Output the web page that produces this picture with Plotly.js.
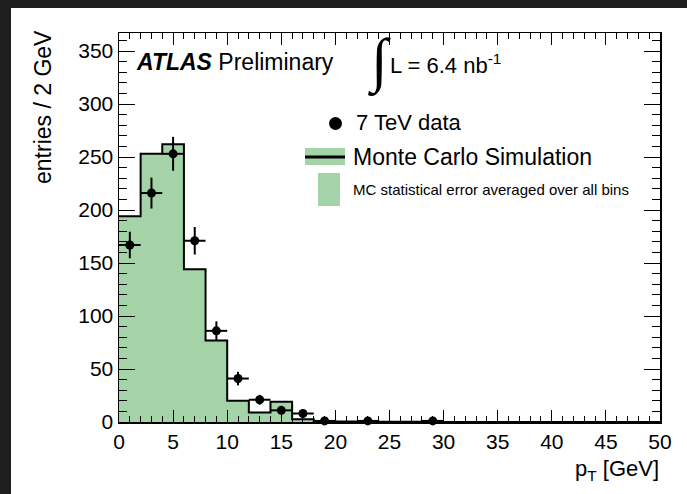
<!DOCTYPE html>
<html>
<head>
<meta charset="utf-8">
<script src="https://cdn.plot.ly/plotly-3.0.1.min.js"></script>
<style>html,body{margin:0;padding:0;background:#1e1e1e;}#chart{width:687px;height:494px;}</style>
</head>
<body>
<div id="chart"></div>
<script>
// MC histogram: bin edges (2 GeV bins) and contents
const mcEdges = [0,2,4,6,8,10,12,14,16,18,20,22,24,26,28,30,32,34,36,38,40,42,44,46,48,50];
const mcValues = [194,253,262,144,77,20,9,19,2.5,1,0.4,0.3,0.2,0.2,0.1,0.1,0,0,0,0,0,0,0,0,0];
// Data points
const dataX = [1,3,5,7,9,11,13,15,17,19,23,29];
const dataY = [167,216,253,171,86,41,21,11,8,1,1,1];
const dataErr = [12.5,14.6,16,13,9,6.4,4.6,3.3,2.8,1,1,1];
const dataXErr = [1,1,1,1,1,1,1,1,1,1,1,1];
const xTicks = [0,5,10,15,20,25,30,35,40,45,50];
const yTicks = [0,50,100,150,200,250,300,350];

const mcStepY = mcValues.concat([mcValues[mcValues.length-1]]);

const FONT = 'Liberation Sans, Arial, Helvetica, sans-serif';
const GREEN = '#a5d3a8';

// pixel -> paper coordinate helpers (plot area: x 119..660, y 33..422)
const L = 119, R = 660, T = 33, B = 422;
const px = x => (x - L) / (R - L);
const py = y => (B - y) / (B - T);

const traces = [
  {
    x: mcEdges, y: mcStepY, type: 'scatter', mode: 'lines',
    line: {shape: 'hv', color: '#000', width: 2},
    fill: 'tozeroy', fillcolor: GREEN, showlegend: false, hoverinfo: 'skip'
  },
  {
    x: dataX, y: dataY, type: 'scatter', mode: 'markers',
    marker: {color: '#000', size: 9, symbol: 'circle'},
    error_y: {type: 'data', array: dataErr, visible: true, color: '#000', thickness: 2, width: 0},
    error_x: {type: 'data', array: dataXErr, visible: true, color: '#000', thickness: 2, width: 0},
    showlegend: false, cliponaxis: false
  }
];

const layout = {
  width: 687, height: 494,
  margin: {l: L, r: 687 - R, t: T, b: 494 - B, pad: 0},
  paper_bgcolor: '#1e1e1e',
  plot_bgcolor: '#ffffff',
  showlegend: false,
  font: {family: FONT, color: '#000', size: 21},
  xaxis: {
    range: [0, 50], tickmode: 'array', tickvals: xTicks, ticktext: xTicks.map(String),
    ticks: 'inside', ticklen: 12, tickwidth: 1, tickcolor: '#000',
    minor: {ticks: 'inside', ticklen: 6, dtick: 1, tickcolor: '#000', tickwidth: 1, showgrid: false},
    showline: true, linecolor: '#000', linewidth: 1.5, mirror: 'allticks',
    showgrid: false, zeroline: false,
    tickfont: {family: FONT, size: 21, color: '#000'}
  },
  yaxis: {
    range: [0, 367], tickmode: 'array', tickvals: yTicks, ticktext: yTicks.map(String),
    ticks: 'inside', ticklen: 16, tickwidth: 1, tickcolor: '#000',
    minor: {ticks: 'inside', ticklen: 8, dtick: 10, tickcolor: '#000', tickwidth: 1, showgrid: false},
    showline: true, linecolor: '#000', linewidth: 1.5, mirror: 'allticks',
    showgrid: false, zeroline: false,
    tickfont: {family: FONT, size: 21, color: '#000'}
  },
  shapes: [
    // white canvas area
    {type: 'rect', xref: 'paper', yref: 'paper', x0: px(11), x1: px(700), y0: py(510), y1: py(8),
     fillcolor: '#ffffff', line: {width: 0}, layer: 'below'},
    // legend: data marker
    {type: 'circle', xref: 'paper', yref: 'paper', x0: px(329), x1: px(342), y0: py(130), y1: py(117),
     fillcolor: '#000', line: {width: 0}},
    // legend: MC band + line
    {type: 'rect', xref: 'paper', yref: 'paper', x0: px(305), x1: px(345), y0: py(165), y1: py(148),
     fillcolor: GREEN, line: {width: 0}},
    {type: 'line', xref: 'paper', yref: 'paper', x0: px(305), x1: px(345), y0: py(157), y1: py(157),
     line: {color: '#000', width: 3}},
    // legend: MC error box
    {type: 'rect', xref: 'paper', yref: 'paper', x0: px(318), x1: px(340), y0: py(206), y1: py(173),
     fillcolor: GREEN, line: {width: 0}}
  ],
  annotations: [
    {xref: 'paper', yref: 'paper', x: px(354), y: py(123), xanchor: 'left', yanchor: 'middle',
     text: '7 TeV data', showarrow: false, font: {family: FONT, size: 22, color: '#000'}},
    {xref: 'paper', yref: 'paper', x: px(351), y: py(157), xanchor: 'left', yanchor: 'middle',
     text: 'Monte Carlo Simulation', showarrow: false, font: {family: FONT, size: 23, color: '#000'}},
    {xref: 'paper', yref: 'paper', x: px(351), y: py(189), xanchor: 'left', yanchor: 'middle',
     text: 'MC statistical error averaged over all bins', showarrow: false, font: {family: FONT, size: 15, color: '#000'}},
    {xref: 'paper', yref: 'paper', x: px(134), y: py(62), xanchor: 'left', yanchor: 'middle',
     text: '<b><i>ATLAS</i></b> Preliminary', showarrow: false, font: {family: FONT, size: 23, color: '#000'}},
    {xref: 'paper', yref: 'paper', x: px(366), y: py(62), xanchor: 'left', yanchor: 'middle',
     text: '∫', showarrow: false, font: {family: 'Liberation Serif, Times New Roman, serif', size: 60, color: '#000'}},
    {xref: 'paper', yref: 'paper', x: px(388), y: py(64), xanchor: 'left', yanchor: 'middle',
     text: 'L = 6.4 nb<sup>-1</sup>', showarrow: false, font: {family: FONT, size: 22, color: '#000'}},
    {xref: 'paper', yref: 'paper', x: px(43), y: py(28), xanchor: 'center', yanchor: 'top', textangle: -90,
     text: 'entries / 2 GeV', showarrow: false, font: {family: FONT, size: 23, color: '#000'}},
    {xref: 'paper', yref: 'paper', x: px(661), y: py(470), xanchor: 'right', yanchor: 'middle',
     text: 'p<sub>T</sub> [GeV]', showarrow: false, font: {family: FONT, size: 22, color: '#000'}}
  ]
};

Plotly.newPlot('chart', traces, layout, {staticPlot: true, displayModeBar: false});
</script>
</body>
</html>
